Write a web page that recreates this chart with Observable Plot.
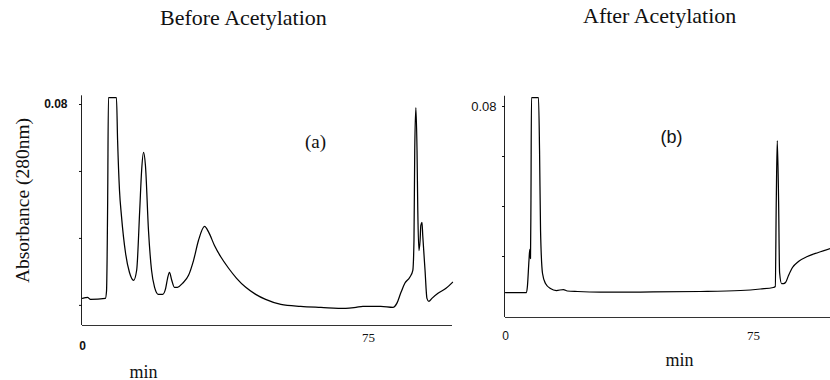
<!DOCTYPE html>
<html>
<head>
<meta charset="utf-8">
<script src="https://cdn.jsdelivr.net/npm/d3@7"></script>
<script src="https://cdn.jsdelivr.net/npm/@observablehq/plot@0.6"></script>
<style>
  html, body { margin: 0; padding: 0; background: #fff; }
  #wrap { position: relative; width: 830px; height: 380px; overflow: hidden; background: #fff; }
  .title { position: absolute; font-family: "Liberation Serif", serif; font-size: 22px; line-height: 22px; color: #111; white-space: nowrap; }
  .panel { position: absolute; top: 0; }
</style>
</head>
<body>
<div id="wrap">
  <div class="panel" id="pa" style="left:0px;"></div>
  <div class="panel" id="pb" style="left:460px;"></div>
  <div class="title" style="left:160px; top:6.6px;">Before Acetylation</div>
  <div class="title" style="left:583px; top:4.6px;">After Acetylation</div>
</div>
<script>
// Panel (a): Before Acetylation — time (min) and absorbance (280 nm)
const timeA = [0, 0.8, 1.3, 2.1, 6.0, 6.3, 6.6, 6.8, 8.9, 9.2, 9.7, 10.2, 11.3, 12.3, 13.4, 14.2, 15.0, 15.5, 16.0, 16.5, 17.3, 18.1, 18.9, 19.9, 21.0, 21.8, 22.3, 22.8, 23.4, 24.1, 24.9, 26.2, 27.8, 29.1, 30.4, 32.0, 33.1, 34.6, 36.2, 38.3, 40.4, 42.8, 45.4, 48.0, 52.0, 57.2, 62.5, 69.0, 71.7, 73.5, 78.2, 81.4, 82.4, 83.5, 84.5, 85.8, 86.6, 86.9, 87.1, 87.4, 87.7, 87.9, 88.2, 88.5, 88.7, 89.0, 89.2, 89.8, 90.3, 90.8, 91.6, 93.2, 95.3, 97.0];
const absA  = [0.0200, 0.0202, 0.0203, 0.0197, 0.0200, 0.0222, 0.0493, 0.0800, 0.0800, 0.0672, 0.0522, 0.0448, 0.0334, 0.0278, 0.0254, 0.0284, 0.0463, 0.0582, 0.0636, 0.0597, 0.0403, 0.0284, 0.0233, 0.0212, 0.0212, 0.0230, 0.0260, 0.0278, 0.0254, 0.0233, 0.0233, 0.0245, 0.0269, 0.0313, 0.0373, 0.0415, 0.0397, 0.0358, 0.0325, 0.0290, 0.0260, 0.0233, 0.0212, 0.0197, 0.0182, 0.0176, 0.0173, 0.0170, 0.0173, 0.0176, 0.0176, 0.0173, 0.0185, 0.0218, 0.0245, 0.0263, 0.0284, 0.0373, 0.0642, 0.0770, 0.0642, 0.0463, 0.0343, 0.0373, 0.0418, 0.0427, 0.0388, 0.0284, 0.0200, 0.0191, 0.0200, 0.0215, 0.0230, 0.0248];

// Panel (b): After Acetylation
const timeB = [0, 6.35, 6.65, 7.1, 7.35, 7.56, 7.7, 7.86, 9.98, 10.3, 10.6, 11.2, 12.1, 13.6, 15.4, 17.5, 18.7, 21.8, 28.7, 40.8, 59.0, 71.1, 77.1, 81.0, 81.6, 81.9, 82.2, 82.6, 82.9, 83.5, 84.1, 84.7, 85.6, 86.8, 88.6, 91.3, 94.6, 98.3];
const absB  = [0.0020, 0.0020, 0.0048, 0.0148, 0.0192, 0.0156, 0.0388, 0.0800, 0.0800, 0.0588, 0.0268, 0.0096, 0.0056, 0.0036, 0.0028, 0.0032, 0.0026, 0.0024, 0.0022, 0.0022, 0.0024, 0.0028, 0.0034, 0.0040, 0.0044, 0.0388, 0.0628, 0.0388, 0.0100, 0.0056, 0.0056, 0.0060, 0.0088, 0.0120, 0.0144, 0.0164, 0.0180, 0.0196];

// Tick values / labels
const yTicks = [0.02, 0.04, 0.06, 0.08];
const yLabelTick = 0.08;
const xTickSans = [0];
const xTickSerif = [75];
const panelLabels = ["(a)", "(b)"];
const yTitle = "Absorbance (280nm)";
const xTitle = "min";

const rowsA = timeA.map((t, i) => ({t, v: absA[i]}));
const rowsB = timeB.map((t, i) => ({t, v: absB[i]}));
const fmtY = d => (d === yLabelTick ? "0.08" : "");
const SERIF = "Liberation Serif, serif";
const SANS = "Liberation Sans, Arial, sans-serif";

const pa = Plot.plot({
  width: 460, height: 380,
  marginLeft: 82, marginRight: 8, marginTop: 97, marginBottom: 55,
  x: {domain: [0, 97]},
  y: {domain: [0.0119, 0.08]},
  style: {background: "transparent", fontFamily: SANS, fontSize: "12px", color: "#111"},
  marks: [
    Plot.ruleX([0], {stroke: "#222", strokeWidth: 1, dx: -1, y1: 0.0119, y2: 0.0805}),
    Plot.ruleY([0.0119], {stroke: "#333", strokeWidth: 1}),
    Plot.axisY({ticks: yTicks, tickSize: 3, tickPadding: 12, tickFormat: fmtY, label: null, dy: 7, fontWeight: "bold", fontSize: 12}),
    Plot.axisX({ticks: xTickSans, tickSize: 0, tickPadding: 16, label: null, fontWeight: "bold", fontSize: 12}),
    Plot.axisX({ticks: xTickSerif, tickSize: 0, tickPadding: 7, label: null, fontFamily: SERIF, fontSize: 13}),
    Plot.line(rowsA, {x: "t", y: "v", stroke: "#000", strokeWidth: 1.25, curve: "monotone-x"}),
    Plot.text([xTitle], {x: [16], frameAnchor: "bottom", lineAnchor: "bottom", textAnchor: "middle", dy: 52, fontFamily: SERIF, fontSize: 18, fill: "#111"}),
    Plot.text([yTitle], {frameAnchor: "left", textAnchor: "middle", lineAnchor: "middle", dx: -60, dy: -11, rotate: -90, fontFamily: SERIF, fontSize: 19.5, fill: "#111"}),
    Plot.text([panelLabels[0]], {frameAnchor: "top-left", dx: 233, dy: 44, textAnchor: "middle", lineAnchor: "middle", fontFamily: SERIF, fontSize: 19, fill: "#111"})
  ]
});
document.getElementById("pa").appendChild(pa);

const pb = Plot.plot({
  width: 370, height: 380,
  marginLeft: 45, marginRight: 0, marginTop: 97, marginBottom: 63,
  x: {domain: [0, 98.3]},
  y: {domain: [-0.008, 0.08]},
  style: {background: "transparent", fontFamily: SANS, fontSize: "12px", color: "#111"},
  marks: [
    Plot.ruleX([0], {stroke: "#222", strokeWidth: 1, dx: -1, y1: -0.008, y2: 0.0805}),
    Plot.ruleY([-0.008], {stroke: "#333", strokeWidth: 1}),
    Plot.axisY({ticks: yTicks, tickSize: 3, tickPadding: 6, tickFormat: fmtY, label: null, dy: 9, fontSize: 13}),
    Plot.axisX({ticks: xTickSans, tickSize: 0, tickPadding: 14, label: null, fontSize: 12}),
    Plot.axisX({ticks: xTickSerif, tickSize: 0, tickPadding: 13, label: null, fontFamily: SERIF, fontSize: 13}),
    Plot.line(rowsB, {x: "t", y: "v", stroke: "#000", strokeWidth: 1.25, curve: "monotone-x"}),
    Plot.text([xTitle], {x: [52.6], frameAnchor: "bottom", lineAnchor: "bottom", textAnchor: "middle", dy: 48, fontFamily: SERIF, fontSize: 18, fill: "#111"}),
    Plot.text([panelLabels[1]], {frameAnchor: "top-left", dx: 166, dy: 40, textAnchor: "middle", lineAnchor: "middle", fontFamily: SANS, fontSize: 18, fill: "#111"})
  ]
});
document.getElementById("pb").appendChild(pb);
</script>
</body>
</html>
